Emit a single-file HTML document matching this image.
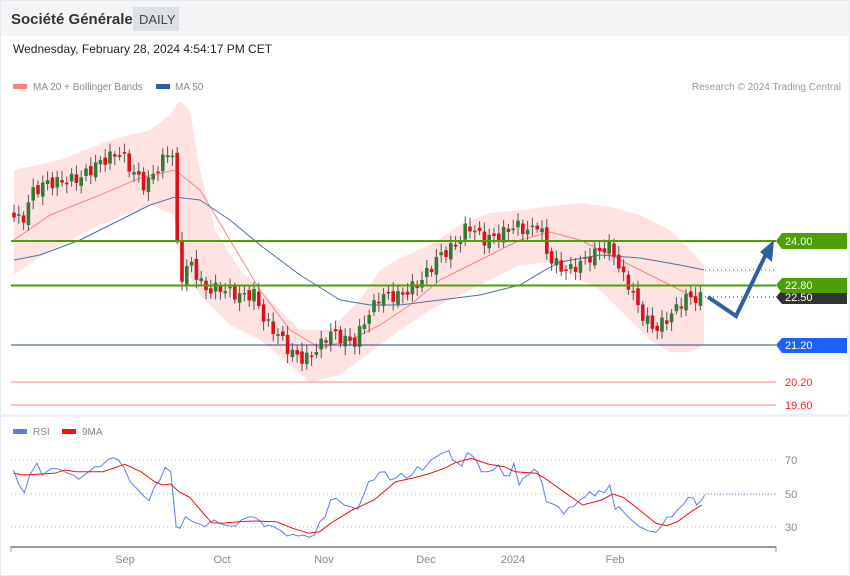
<!DOCTYPE html>
<html><head><meta charset="utf-8"><style>
body{margin:0;background:#fff;font-family:"Liberation Sans",sans-serif;}
#w{position:relative;width:850px;height:576px;overflow:hidden;background:#fff;}
svg text{font-family:"Liberation Sans",sans-serif;}
</style></head><body><div id="w">
<svg id="s" width="850" height="576" xmlns="http://www.w3.org/2000/svg">
<rect x="0" y="0" width="850" height="36" fill="#f4f5f7"/>
<rect x="0.5" y="0.5" width="849" height="575" fill="none" stroke="#e6e9ee"/>
<text x="11" y="24" font-size="15" font-weight="bold" fill="#333">Société Générale</text>
<rect x="133" y="7" width="46" height="24" fill="#dde0e5"/>
<text x="139" y="24" font-size="13" fill="#444">DAILY</text>
<text x="13" y="53" font-size="12" fill="#222">Wednesday, February 28, 2024 4:54:17 PM CET</text>
<rect x="13" y="84" width="14" height="5" fill="#ff7f7f"/>
<text x="33" y="90" font-size="10" fill="#888">MA 20 + Bollinger Bands</text>
<rect x="156" y="84" width="14" height="5" fill="#2f5f9f"/>
<text x="175" y="90" font-size="10" fill="#888">MA 50</text>
<text x="841" y="90" font-size="10" fill="#999" text-anchor="end">Research © 2024 Trading Central</text>
<rect x="0" y="414" width="850" height="3" fill="#eef1f5"/>
<g id="main"></g>
<line x1="11" y1="241" x2="776" y2="241" stroke="#4ca000" stroke-width="2"/>
<line x1="11" y1="285.5" x2="776" y2="285.5" stroke="#4ca000" stroke-width="2"/>
<line x1="11" y1="345" x2="776" y2="345" stroke="#2a4a8a" stroke-width="1"/>
<line x1="11" y1="382" x2="776" y2="382" stroke="#ff9a9a" stroke-width="1.3"/>
<line x1="11" y1="405" x2="776" y2="405" stroke="#ff9a9a" stroke-width="1.3"/>
<line x1="705" y1="270" x2="776" y2="270" stroke="#2f5f9f" stroke-dasharray="1,3"/>
<line x1="705" y1="297" x2="776" y2="297" stroke="#333" stroke-dasharray="1,3"/>
<polygon points="776,297 782,290 847,290 847,304 782,304" fill="#333"/>
<text x="785" y="301" font-size="11" fill="#fff">22.50</text>
<polygon points="776,241 782,233 847,233 847,249 782,249" fill="#4ca000"/>
<text x="785" y="245" font-size="11" fill="#fff">24.00</text>
<polygon points="776,285 782,278 847,278 847,293 782,293" fill="#4ca000"/>
<text x="785" y="289" font-size="11" fill="#fff">22.80</text>
<polygon points="776,345 782,338 847,338 847,353 782,353" fill="#1a62ff"/>
<text x="785" y="349" font-size="11" fill="#fff">21.20</text>
<text x="785" y="386" font-size="11" fill="#f22">20.20</text>
<text x="785" y="409" font-size="11" fill="#f22">19.60</text>
<polyline points="708,297 736,316 768,250" fill="none" stroke="#2f5f9f" stroke-width="4" stroke-linejoin="miter"/>
<polygon points="760,252 774,240 772,262" fill="#2f5f9f"/>
<rect x="13" y="429" width="14" height="5" fill="#5b7fe0"/>
<text x="33" y="435" font-size="10" fill="#888">RSI</text>
<rect x="62" y="429" width="14" height="5" fill="#ee1111"/>
<text x="82" y="435" font-size="10" fill="#888">9MA</text>
<line x1="11" y1="460" x2="776" y2="460" stroke="#bbb" stroke-dasharray="1,3"/>
<line x1="11" y1="494" x2="776" y2="494" stroke="#bbb" stroke-dasharray="1,3"/>
<line x1="11" y1="527" x2="776" y2="527" stroke="#bbb" stroke-dasharray="1,3"/>
<line x1="705" y1="494" x2="776" y2="494" stroke="#5b7fe0" stroke-dasharray="1,2"/>
<text x="785" y="464" font-size="11" fill="#888">70</text>
<text x="785" y="498" font-size="11" fill="#888">50</text>
<text x="785" y="531" font-size="11" fill="#888">30</text>
<g id="rsi"></g>
<line x1="11" y1="547" x2="776" y2="547" stroke="#999" stroke-width="2"/>
<line x1="11" y1="546" x2="11" y2="552" stroke="#999"/>
<line x1="776" y1="546" x2="776" y2="552" stroke="#999"/>
<g font-size="11" fill="#888" text-anchor="middle">
<text x="125" y="563">Sep</text><text x="222" y="563">Oct</text><text x="324" y="563">Nov</text><text x="426" y="563">Dec</text><text x="513" y="563">2024</text><text x="615" y="563">Feb</text></g>
</svg>
<script>
(function(){
var NS="http://www.w3.org/2000/svg",g=document.getElementById('main');
function el(t,a,p){var e=document.createElementNS(NS,t);for(var k in a)e.setAttribute(k,a[k]);(p||g).appendChild(e);return e;}
function interp(p,x){for(var i=1;i<p.length;i++){if(x<=p[i][0]){var a=p[i-1],b=p[i];return a[1]+(b[1]-a[1])*(x-a[0])/(b[0]-a[0]);}}return p[p.length-1][1];}
var up=[[14,170],[60,160],[110,140],[150,130],[170,115],[180,100],[190,110],[200,170],[215,230],[240,270],[270,300],[300,330],[330,330],[360,300],[380,270],[400,258],[430,245],[460,225],[490,213],[520,210],[560,205],[580,203],[610,207],[640,215],[670,230],[690,250],[704,265]];
var lo=[[14,275],[50,250],[100,225],[150,205],[175,215],[180,260],[200,295],[230,325],[260,340],[290,365],[310,382],[340,375],[360,360],[380,345],[400,330],[430,310],[460,295],[490,280],[520,265],[550,262],[570,275],[600,290],[630,320],[650,340],[670,352],[690,352],[704,345]];
var pts=[];for(var x=14;x<=704;x+=3)pts.push(x+','+interp(up,x));for(var x=704;x>=14;x-=3)pts.push(x+','+interp(lo,x));
el('polygon',{points:pts.join(' '),fill:'#ffe3e3'});
var ma=[[14,240],[50,215],[100,195],[140,178],[175,170],[200,190],[230,240],[260,290],[290,330],[320,348],[350,340],[380,325],[410,305],[440,280],[480,260],[520,240],[550,232],[580,240],[610,255],[640,270],[670,285],[700,300]];
var m1=[];for(var x=14;x<=700;x+=3)m1.push(x+','+interp(ma,x));
el('polyline',{points:m1.join(' '),fill:'none',stroke:'#ff8080','stroke-width':1});
var mb=[[14,260],[40,255],[80,240],[120,220],[150,205],[175,197],[200,200],[230,220],[260,245],[300,275],[340,300],[370,305],[400,305],[440,300],[480,295],[520,285],[545,270],[560,262],[600,255],[640,258],[680,265],[704,270]];
var m2=[];for(var x=14;x<=704;x+=3)m2.push(x+','+interp(mb,x));
el('polyline',{points:m2.join(' '),fill:'none',stroke:'#4a6fa8','stroke-width':1});
var path=[[14,213],[22,225],[30,195],[45,183],[60,182],[80,178],[100,162],[120,152],[130,168],[145,186],[160,165],[172,145],[176,232],[180,280],[190,262],[205,290],[220,288],[240,296],[255,294],[265,322],[280,336],[290,352],[305,360],[320,346],[330,332],[345,340],[355,342],[365,320],[380,296],[400,296],[420,282],[440,255],[455,246],[468,225],[485,240],[500,235],[515,225],[530,232],[540,220],[545,252],[560,268],[570,270],[585,260],[600,250],[612,246],[620,272],[630,286],[640,312],[655,330],[670,316],[685,298],[704,298]];
var prev=interp(path,14),i=0;
for(var x=14;x<=704;x+=4.8){i++;var c=interp(path,x)+Math.sin(i*2.3)*6;var o=prev+Math.cos(i*1.7)*3;
var top=Math.min(o,c),bot=Math.max(o,c);if(bot-top<1.5)bot=top+1.5;
var col=(c<o)?'#2e7d32':'#e0101a';
el('line',{x1:x,y1:top-3-Math.abs(Math.sin(i))*6,x2:x,y2:bot+3+Math.abs(Math.cos(i*1.3))*6,stroke:'#555','stroke-width':1});
el('rect',{x:x-1.8,y:top,width:3.6,height:bot-top,fill:col});prev=c;}
var r=document.getElementById('rsi');
function conv(a){return a.map(function(p){return (p[0]/1.845).toFixed(1)+','+(410+p[1]/3).toFixed(1);}).join(' ');}
var blue=[[25,180],[35,225],[45,248],[55,195],[68,160],[78,195],[95,175],[110,178],[125,190],[135,195],[145,208],[160,190],[175,170],[185,170],[200,148],[210,143],[218,150],[228,170],[240,215],[255,240],[265,258],[275,272],[285,230],[295,210],[305,172],[315,185],[325,350],[332,355],[342,320],[355,335],[370,343],[378,350],[385,340],[395,330],[405,340],[415,345],[425,348],[435,348],[445,330],[460,320],[470,322],[480,333],[488,350],[495,345],[505,350],[518,362],[530,378],[540,373],[550,378],[560,375],[570,382],[580,375],[590,335],[600,320],[610,270],[620,265],[635,285],[650,292],[660,298],[672,250],[680,215],[690,210],[700,187],[710,185],[720,210],[730,205],[740,190],[750,205],[760,195],[770,170],[780,180],[795,150],[805,140],[815,130],[828,122],[835,150],[845,160],[852,168],[862,128],[870,135],[880,155],[888,185],[900,185],[910,180],[920,165],[930,197],[940,197],[948,160],[958,225],[965,205],[975,195],[985,178],[992,185],[1000,218],[1008,275],[1020,282],[1030,290],[1040,312],[1050,292],[1058,290],[1070,270],[1080,260],[1088,245],[1098,258],[1105,242],[1115,248],[1125,225],[1135,298],[1142,290],[1150,305],[1165,330],[1180,350],[1195,362],[1210,367],[1220,350],[1230,322],[1240,320],[1250,300],[1260,285],[1270,262],[1280,265],[1285,285],[1295,270],[1300,255]];
var red=[[25,190],[45,195],[100,190],[120,180],[140,185],[190,185],[230,163],[260,185],[285,215],[300,225],[315,222],[330,245],[350,262],[370,300],[390,338],[410,340],[440,335],[470,333],[510,335],[540,355],[570,370],[590,365],[610,340],[650,300],[690,270],[730,215],[760,205],[790,192],[820,175],[840,158],[870,145],[900,162],[930,170],[950,185],[990,190],[1010,210],[1040,245],[1075,285],[1110,270],[1130,252],[1150,262],[1180,300],[1210,340],[1230,347],[1250,335],[1275,305],[1295,285]];
el('polyline',{points:conv(blue),fill:'none',stroke:'#5b7fe0','stroke-width':1},r);
el('polyline',{points:conv(red),fill:'none',stroke:'#ee1111','stroke-width':1},r);
})();
</script>
</div></body></html>
